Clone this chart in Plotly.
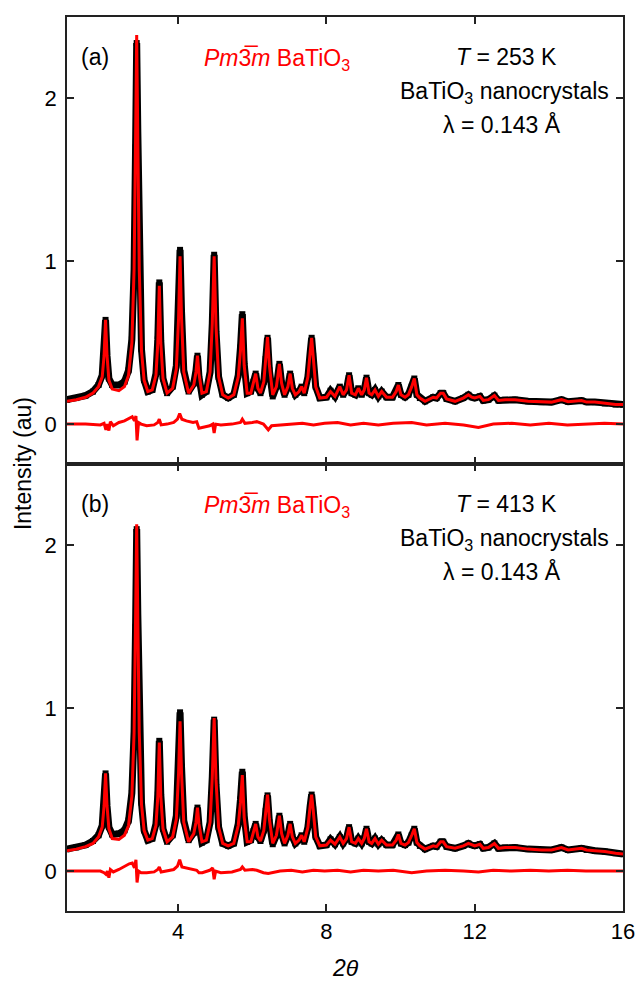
import plotly.graph_objects as go
from plotly.subplots import make_subplots

# 2theta grid of the points
two_theta = [
    1.00, 1.25, 1.50, 1.70, 1.85, 1.95, 2.00, 2.04, 2.08, 2.13,
    2.22, 2.40, 2.55, 2.66, 2.75, 2.81, 2.85, 2.88, 2.91, 2.95,
    3.01, 3.08, 3.18, 3.30, 3.40, 3.45, 3.49, 3.53, 3.59, 3.70,
    3.85, 3.95, 4.01, 4.05, 4.09, 4.15, 4.28, 4.42, 4.48, 4.52,
    4.56, 4.64, 4.76, 4.86, 4.92, 4.97, 5.02, 5.09, 5.20, 5.35,
    5.50, 5.62, 5.68, 5.73, 5.78, 5.86, 5.96, 6.03, 6.09, 6.15,
    6.22, 6.31, 6.36, 6.41, 6.46, 6.55, 6.65, 6.73, 6.79, 6.87,
    6.96, 7.02, 7.08, 7.16, 7.26, 7.33, 7.40, 7.50, 7.56, 7.60,
    7.64, 7.71, 7.82, 8.00, 8.11, 8.23, 8.36, 8.45, 8.54, 8.61,
    8.68, 8.78, 8.86, 8.95, 9.02, 9.08, 9.15, 9.22, 9.31, 9.40,
    9.49, 9.62, 9.78, 9.88, 9.94, 10.01, 10.12, 10.21, 10.30, 10.37,
    10.44, 10.52, 10.66, 10.88, 10.97, 11.08, 11.15, 11.24, 11.47, 11.69,
    11.83, 11.92, 12.00, 12.14, 12.23, 12.37, 12.53, 12.64, 12.82, 13.09,
    13.44, 13.80, 14.07, 14.34, 14.52, 14.88, 15.02, 15.24, 15.51, 15.80,
    16.00,
]

# (a) T = 253 K
calc_a = [
    0.14, 0.15, 0.165, 0.19, 0.23, 0.29, 0.42, 0.64, 0.42, 0.27,
    0.215, 0.205, 0.23, 0.30, 0.50, 0.95, 1.75, 2.39, 1.75, 0.95,
    0.45, 0.27, 0.20, 0.21, 0.30, 0.50, 0.85, 0.50, 0.28, 0.19,
    0.22, 0.34, 0.65, 1.03, 0.65, 0.32, 0.19, 0.24, 0.32, 0.42,
    0.31, 0.19, 0.20, 0.32, 0.62, 1.03, 0.60, 0.29, 0.18, 0.16,
    0.18, 0.29, 0.45, 0.65, 0.36, 0.19, 0.19, 0.25, 0.31, 0.22,
    0.19, 0.26, 0.40, 0.535, 0.36, 0.18, 0.23, 0.37, 0.25, 0.18,
    0.23, 0.31, 0.22, 0.18, 0.20, 0.23, 0.19, 0.29, 0.44, 0.53,
    0.42, 0.23, 0.16, 0.165, 0.20, 0.17, 0.23, 0.18, 0.21, 0.30,
    0.19, 0.18, 0.22, 0.18, 0.21, 0.285, 0.19, 0.18, 0.21, 0.17,
    0.20, 0.165, 0.165, 0.20, 0.24, 0.18, 0.165, 0.18, 0.23, 0.28,
    0.18, 0.16, 0.14, 0.165, 0.16, 0.19, 0.19, 0.155, 0.14, 0.16,
    0.18, 0.165, 0.16, 0.17, 0.145, 0.15, 0.175, 0.145, 0.15, 0.15,
    0.14, 0.135, 0.135, 0.15, 0.137, 0.145, 0.135, 0.135, 0.127, 0.12,
    0.12,
]
obs_a = [
    0.15, 0.16, 0.175, 0.20, 0.24, 0.30, 0.43, 0.64, 0.42, 0.28,
    0.24, 0.24, 0.26, 0.33, 0.52, 0.95, 1.70, 2.34, 1.80, 0.97,
    0.46, 0.27, 0.20, 0.21, 0.31, 0.52, 0.87, 0.51, 0.28, 0.19,
    0.23, 0.36, 0.70, 1.07, 0.69, 0.33, 0.20, 0.25, 0.33, 0.42,
    0.29, 0.18, 0.20, 0.32, 0.62, 1.04, 0.57, 0.29, 0.18, 0.16,
    0.18, 0.30, 0.47, 0.675, 0.37, 0.19, 0.20, 0.26, 0.31, 0.22,
    0.19, 0.26, 0.40, 0.53, 0.33, 0.17, 0.23, 0.37, 0.25, 0.18,
    0.23, 0.31, 0.22, 0.18, 0.20, 0.23, 0.19, 0.29, 0.44, 0.53,
    0.42, 0.23, 0.16, 0.165, 0.205, 0.17, 0.23, 0.18, 0.21, 0.30,
    0.19, 0.18, 0.22, 0.18, 0.21, 0.285, 0.19, 0.18, 0.21, 0.17,
    0.20, 0.165, 0.165, 0.20, 0.24, 0.18, 0.165, 0.18, 0.23, 0.28,
    0.18, 0.16, 0.14, 0.165, 0.16, 0.19, 0.19, 0.155, 0.14, 0.16,
    0.18, 0.165, 0.16, 0.17, 0.145, 0.15, 0.175, 0.145, 0.15, 0.15,
    0.14, 0.135, 0.135, 0.15, 0.137, 0.145, 0.135, 0.135, 0.127, 0.12,
    0.12,
]

# (b) T = 413 K
calc_b = [
    0.125, 0.135, 0.15, 0.17, 0.21, 0.27, 0.40, 0.60, 0.40, 0.26,
    0.20, 0.195, 0.22, 0.28, 0.46, 0.85, 1.55, 2.13, 1.55, 0.85,
    0.41, 0.25, 0.19, 0.20, 0.28, 0.46, 0.79, 0.46, 0.26, 0.18,
    0.21, 0.32, 0.60, 0.92, 0.60, 0.30, 0.18, 0.23, 0.30, 0.39,
    0.29, 0.18, 0.19, 0.30, 0.58, 0.94, 0.56, 0.27, 0.17, 0.155,
    0.17, 0.28, 0.42, 0.59, 0.33, 0.18, 0.18, 0.24, 0.29, 0.21,
    0.185, 0.25, 0.37, 0.47, 0.32, 0.17, 0.22, 0.34, 0.23, 0.17,
    0.22, 0.29, 0.21, 0.17, 0.19, 0.22, 0.18, 0.27, 0.40, 0.47,
    0.38, 0.21, 0.155, 0.16, 0.19, 0.165, 0.21, 0.17, 0.20, 0.27,
    0.18, 0.17, 0.20, 0.17, 0.20, 0.26, 0.18, 0.17, 0.20, 0.165,
    0.19, 0.16, 0.16, 0.19, 0.225, 0.17, 0.16, 0.175, 0.22, 0.26,
    0.175, 0.155, 0.135, 0.155, 0.15, 0.18, 0.18, 0.15, 0.14, 0.155,
    0.17, 0.16, 0.155, 0.165, 0.14, 0.145, 0.17, 0.14, 0.145, 0.145,
    0.135, 0.13, 0.13, 0.145, 0.13, 0.14, 0.13, 0.125, 0.12, 0.11,
    0.105,
]
obs_b = [
    0.135, 0.145, 0.16, 0.185, 0.22, 0.28, 0.41, 0.60, 0.40, 0.27,
    0.225, 0.23, 0.25, 0.31, 0.48, 0.86, 1.50, 2.10, 1.58, 0.87,
    0.42, 0.25, 0.19, 0.20, 0.29, 0.47, 0.80, 0.47, 0.26, 0.18,
    0.22, 0.34, 0.65, 0.975, 0.64, 0.31, 0.19, 0.235, 0.31, 0.39,
    0.28, 0.175, 0.19, 0.30, 0.58, 0.93, 0.53, 0.27, 0.17, 0.155,
    0.17, 0.29, 0.44, 0.61, 0.34, 0.18, 0.19, 0.245, 0.29, 0.21,
    0.185, 0.25, 0.37, 0.465, 0.30, 0.165, 0.22, 0.34, 0.23, 0.17,
    0.22, 0.29, 0.21, 0.17, 0.19, 0.22, 0.18, 0.27, 0.40, 0.47,
    0.38, 0.21, 0.155, 0.16, 0.195, 0.165, 0.21, 0.17, 0.20, 0.27,
    0.18, 0.17, 0.20, 0.17, 0.20, 0.26, 0.18, 0.17, 0.20, 0.165,
    0.19, 0.16, 0.16, 0.19, 0.225, 0.17, 0.16, 0.175, 0.22, 0.26,
    0.175, 0.155, 0.135, 0.155, 0.15, 0.18, 0.18, 0.15, 0.14, 0.155,
    0.17, 0.16, 0.155, 0.165, 0.14, 0.145, 0.17, 0.14, 0.145, 0.145,
    0.135, 0.13, 0.13, 0.145, 0.13, 0.14, 0.13, 0.125, 0.12, 0.11,
    0.105,
]

# difference curves (obs - calc), plotted around zero
diff_x = [
    1.0, 1.5, 1.9, 2.0, 2.05, 2.09, 2.13, 2.17, 2.25, 2.4,
    2.55, 2.68, 2.76, 2.82, 2.86, 2.89, 2.93, 3.0, 3.15, 3.35,
    3.45, 3.49, 3.54, 3.7, 3.88, 3.98, 4.04, 4.1, 4.22, 4.4,
    4.5, 4.56, 4.65, 4.85, 4.93, 4.97, 5.01, 5.15, 5.45, 5.68,
    5.73, 5.8, 6.0, 6.12, 6.3, 6.43, 6.52, 6.75, 7.05, 7.35,
    7.65, 7.95, 8.3, 8.65, 9.0, 9.4, 9.8, 10.3, 10.7, 11.2,
    11.7, 12.1, 12.5, 13.0, 13.5, 14.0, 14.5, 15.0, 15.5, 16.0,
]
diff_a = [
    0.0, 0.0, -0.005, 0.005, -0.035, 0.0, -0.04, 0.015, -0.01, 0.01,
    0.02, 0.035, 0.045, 0.02, 0.05, -0.1, 0.01, 0.0, -0.01, -0.005,
    0.01, 0.03, -0.005, 0.0, 0.01, 0.03, 0.065, 0.03, 0.02, 0.01,
    0.015, -0.025, -0.02, -0.01, 0.0, -0.055, 0.0, -0.005, 0.0, 0.01,
    0.03, 0.005, 0.01, 0.015, 0.0, -0.035, -0.01, -0.005, 0.0, 0.005,
    -0.005, 0.005, 0.01, -0.005, 0.005, -0.005, 0.005, 0.01, -0.005, 0.005,
    -0.005, -0.02, 0.0, 0.005, -0.005, 0.005, -0.005, 0.0, 0.005, 0.0,
]
diff_b = [
    0.0, 0.0, 0.0, -0.01, -0.02, 0.0, -0.04, 0.01, -0.005, 0.01,
    0.03, 0.045, 0.05, 0.02, 0.07, -0.07, 0.0, -0.01, -0.01, -0.005,
    0.01, 0.025, -0.005, 0.0, 0.01, 0.03, 0.07, 0.025, 0.02, 0.01,
    0.005, -0.01, -0.01, 0.005, 0.02, -0.05, 0.0, -0.01, -0.005, 0.01,
    0.025, 0.005, 0.01, 0.005, -0.01, -0.015, -0.01, 0.0, 0.005, -0.005,
    0.005, 0.0, 0.005, -0.005, 0.005, 0.0, 0.005, -0.01, 0.0, 0.005,
    0.0, -0.005, 0.005, 0.0, 0.005, 0.0, 0.005, 0.0, 0.0, 0.0,
]

for arr in (calc_a, obs_a, calc_b, obs_b):
    assert len(arr) == len(two_theta)
for arr in (diff_a, diff_b):
    assert len(arr) == len(diff_x)

panels = [
    ("(a)", "253", obs_a, calc_a, diff_a),
    ("(b)", "413", obs_b, calc_b, diff_b),
]

FONT = "Arial, Liberation Sans, sans-serif"
RED = "#ff0000"
TXT = 23

fig = make_subplots(rows=2, cols=1, shared_xaxes=True, vertical_spacing=0)


def label(x, y, text, color="black", xanchor="center", **kw):
    fig.add_annotation(x=x, y=y, xref="paper", yref="paper", text=text,
                       xanchor=xanchor, yanchor="middle", showarrow=False,
                       font=dict(size=TXT, color=color), **kw)


for i, (tag, temp, obs, calc, diff) in enumerate(panels):
    row = i + 1
    fig.add_trace(go.Scatter(x=two_theta, y=obs, mode="lines+markers",
                             line=dict(color="black", width=7),
                             marker=dict(symbol="square", size=6, color="black"),
                             showlegend=False), row=row, col=1)
    fig.add_trace(go.Scatter(x=two_theta, y=calc, mode="lines",
                             line=dict(color=RED, width=3),
                             showlegend=False), row=row, col=1)
    fig.add_trace(go.Scatter(x=diff_x, y=diff, mode="lines",
                             line=dict(color=RED, width=3),
                             showlegend=False), row=row, col=1)

    y0 = 0.5 * (1 - i)
    label(0.0504, y0 + 0.4547, tag)
    label(0.2423, y0 + 0.4525, "<i>Pm</i>3\u0305<i>m</i> BaTiO<sub>3</sub>", color=RED,
          xanchor="left")
    label(0.7896, y0 + 0.4547, "<i>T</i> = %s K" % temp)
    label(0.786, y0 + 0.4155, "BaTiO<sub>3</sub> nanocrystals")
    label(0.7824, y0 + 0.3803, "\u03bb = 0.143 \u00c5")

label(-0.079, 0.5, "Intensity (au)", textangle=-90)
label(0.5, -0.064, "<i>2\u03b8</i>")

axis_style = dict(showline=True, linecolor="#222", linewidth=1.5, mirror="ticks",
                  ticks="inside", ticklen=7, tickwidth=1.5, tickcolor="#222",
                  showgrid=False, zeroline=False, automargin=False,
                  tickfont=dict(size=22, color="black"))
fig.update_xaxes(range=[1, 16], tickvals=[4, 8, 12, 16], **axis_style)
fig.update_xaxes(showticklabels=False, row=1, col=1)
fig.update_yaxes(range=[-0.245, 2.5], tickvals=[0, 1, 2], ticklabelstandoff=4, **axis_style)
fig.update_layout(
    width=638, height=981,
    margin=dict(l=67, r=15, t=17, b=70),
    plot_bgcolor="white", paper_bgcolor="white",
    font=dict(family=FONT, size=TXT, color="black"),
    yaxis=dict(domain=[0.5, 1]),
    yaxis2=dict(domain=[0, 0.5]),
)

fig.write_html("out.html", config={"displayModeBar": False},
               post_script="document.body.style.margin = '0px';")
